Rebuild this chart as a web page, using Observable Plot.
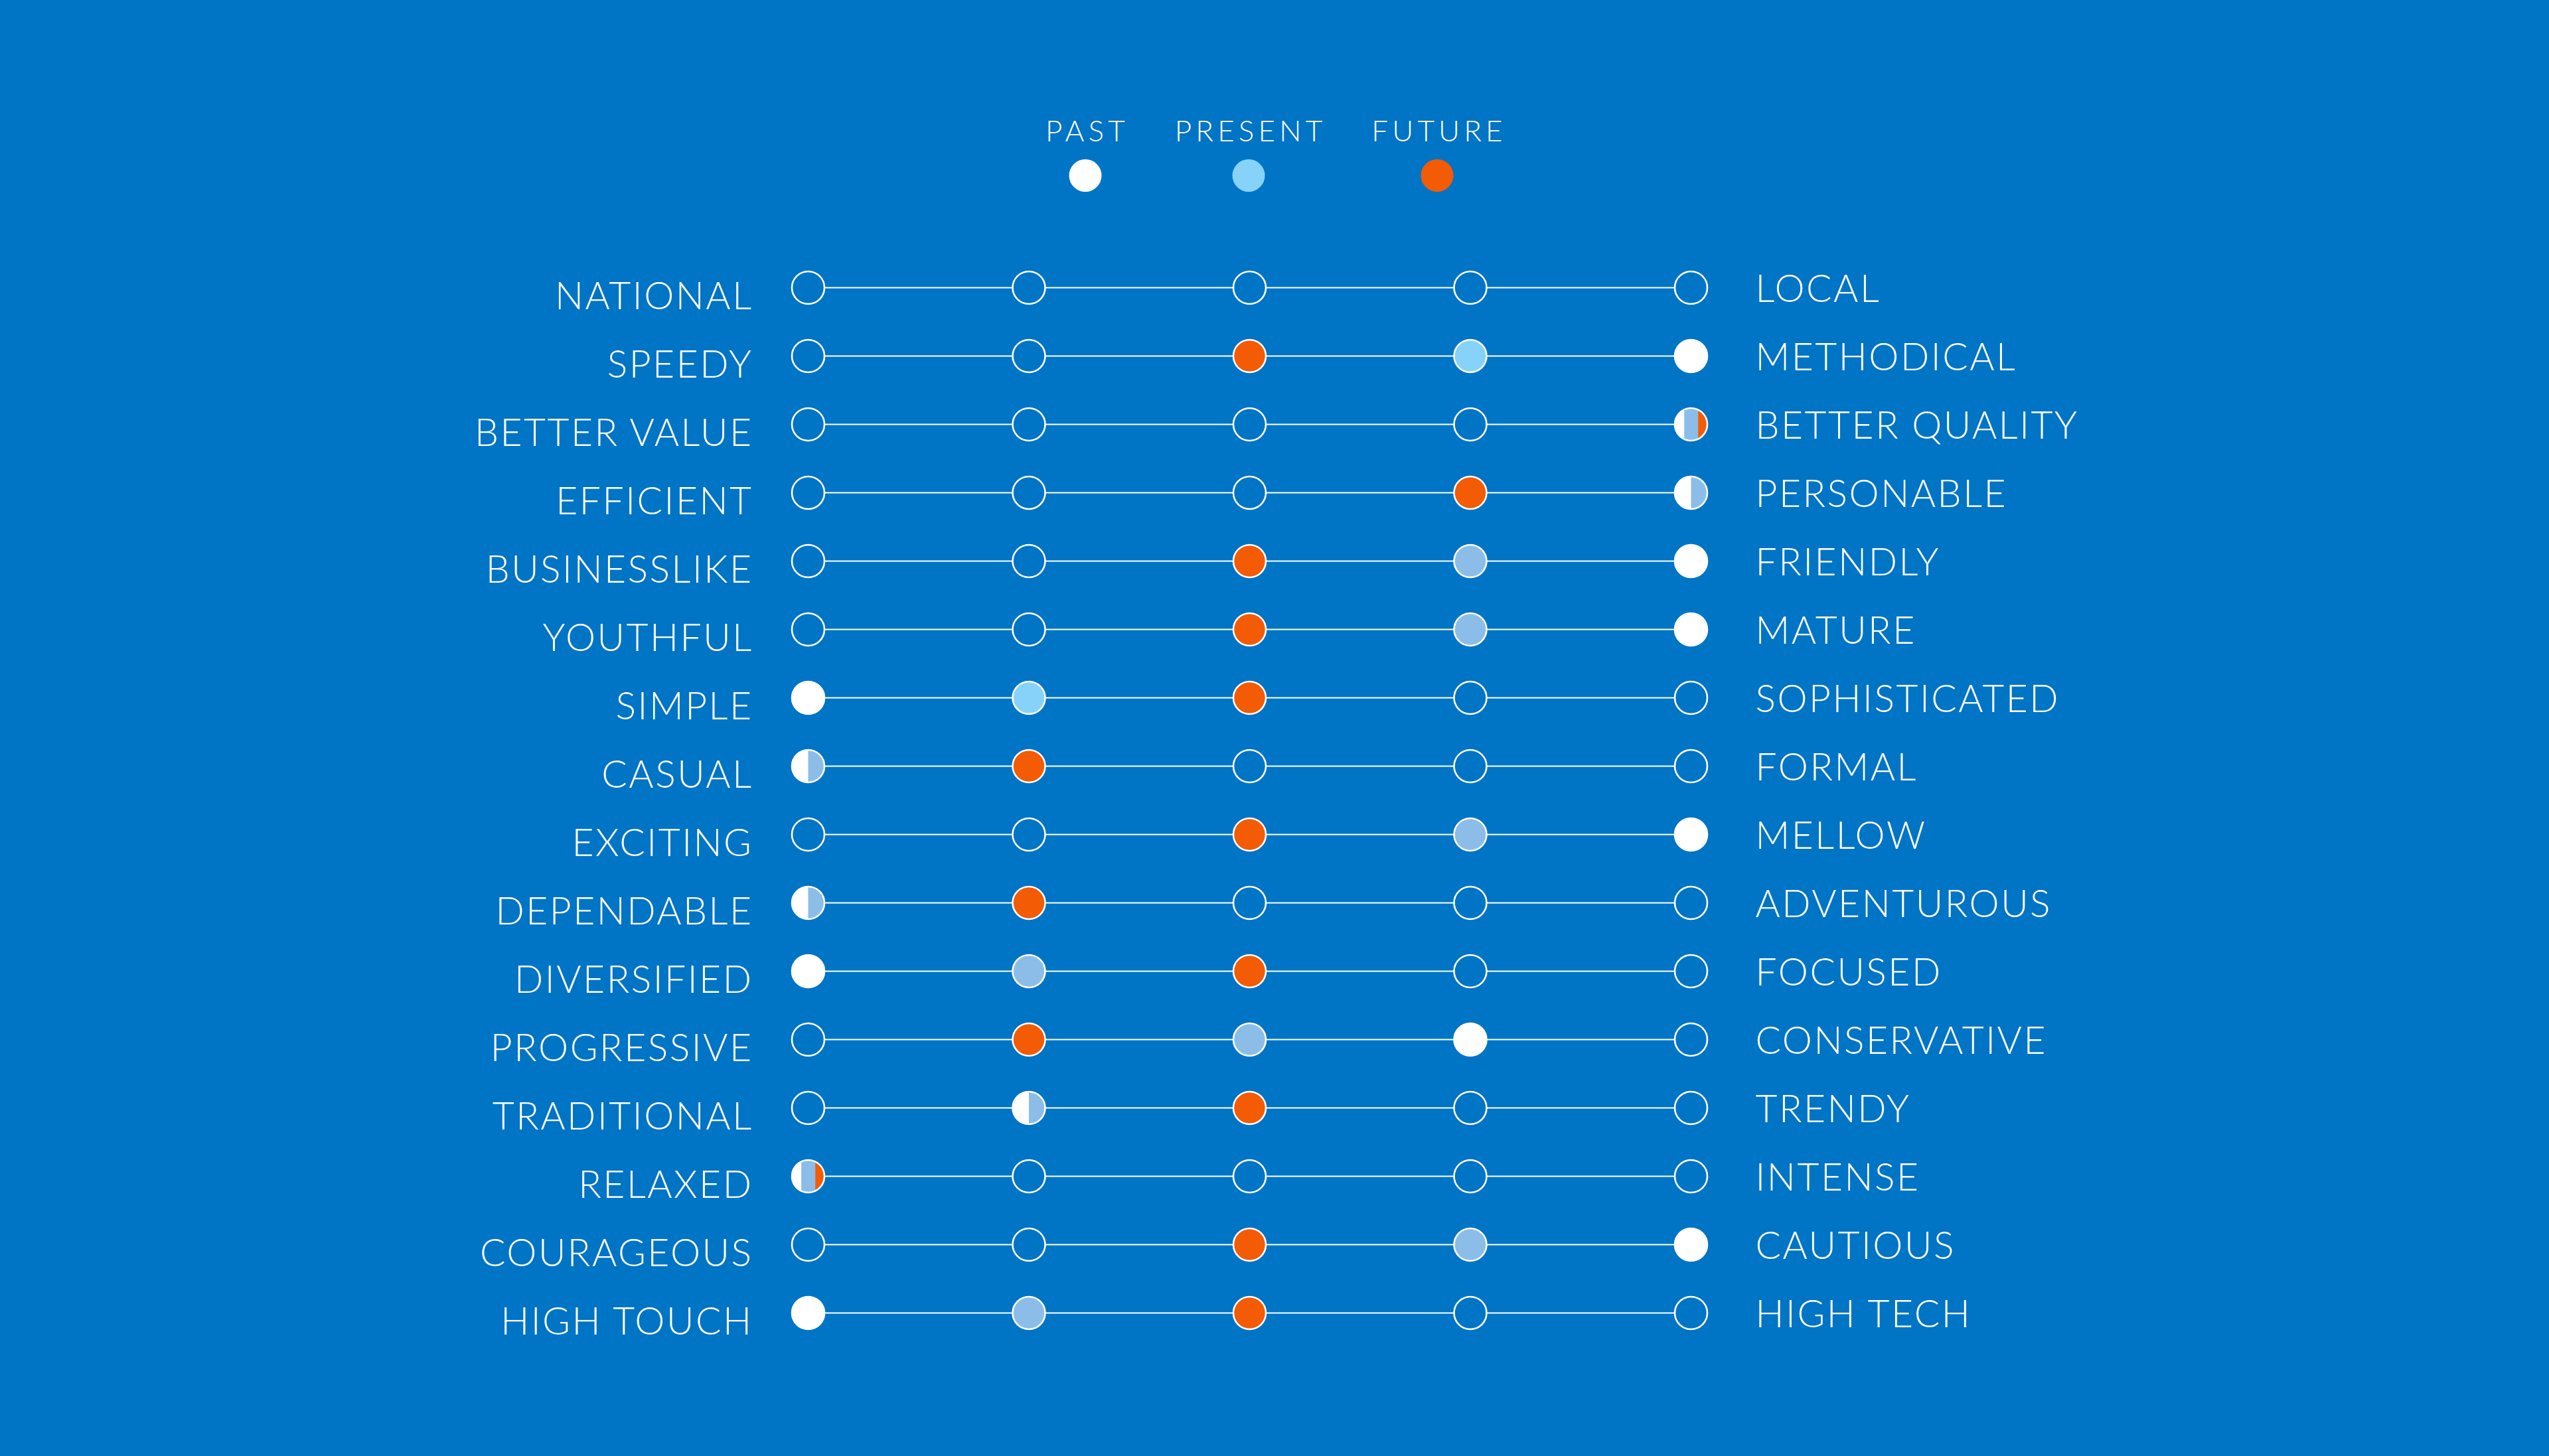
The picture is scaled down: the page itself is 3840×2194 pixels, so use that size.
<!DOCTYPE html>
<html>
<head>
<meta charset="utf-8">
<script src="https://cdn.jsdelivr.net/npm/d3@7"></script>
<script src="https://cdn.jsdelivr.net/npm/@observablehq/plot@0.6"></script>
<style>
  html, body { margin: 0; padding: 0; background: #0074C5; }
  body { width: 3840px; height: 2194px; overflow: hidden; font-family: "Lato", "Open Sans", sans-serif; font-weight: 300; color: #fff; }
  #legend { position: relative; width: 3840px; height: 330px; }
  .lg-label { position: absolute; top: 172px; transform: translateX(-50%); font-size: 44px; line-height: 48px; letter-spacing: 0.14em; white-space: nowrap; }
  .lg-dot { position: absolute; top: 240px; width: 49px; height: 49px; border-radius: 50%; transform: translateX(-50%); }
</style>
</head>
<body>
<div id="legend"></div>
<div id="chart"></div>
<script>
// ---- data ----
const leftLabels = ["NATIONAL","SPEEDY","BETTER VALUE","EFFICIENT","BUSINESSLIKE","YOUTHFUL","SIMPLE","CASUAL","EXCITING","DEPENDABLE","DIVERSIFIED","PROGRESSIVE","TRADITIONAL","RELAXED","COURAGEOUS","HIGH TOUCH"];
const rightLabels = ["LOCAL","METHODICAL","BETTER QUALITY","PERSONABLE","FRIENDLY","MATURE","SOPHISTICATED","FORMAL","MELLOW","ADVENTUROUS","FOCUSED","CONSERVATIVE","TRENDY","INTENSE","CAUTIOUS","HIGH TECH"];
const scalePoints = [1, 2, 3, 4, 5];
const series = ["PAST", "PRESENT", "FUTURE"];
// position (1-5) on each scale; null = not rated
const past    = [null, 5, 5, 5, 5, 5, 1, 1, 5, 1, 1, 4, 2, 1, 5, 1];
const present = [null, 4, 5, 5, 4, 4, 2, 1, 4, 1, 2, 3, 2, 1, 4, 2];
const future  = [null, 3, 5, 4, 3, 3, 3, 2, 3, 2, 3, 2, 3, 1, 3, 3];
const brightPresentRows = ["SPEEDY", "SIMPLE"];

// ---- colours ----
const BG = "#0074C5";
const colorDomain = ["PAST", "PRESENT", "PRESENT_LIGHT", "FUTURE"];
const colorRange = ["#FFFFFF", "#8BBDE8", "#87D2F8", "#F35B04"];
const legendColors = {PAST: "#FFFFFF", PRESENT: "#87D2F8", FUTURE: "#F35B04"};

// ---- legend (HTML, above the svg) ----
const legendX = {PAST: 1635, PRESENT: 1881, FUTURE: 2165};
const legend = document.getElementById("legend");
for (const s of series) {
  const l = document.createElement("div");
  l.className = "lg-label"; l.textContent = s; l.style.left = (legendX[s] + 3) + "px";
  legend.appendChild(l);
  const d = document.createElement("div");
  d.className = "lg-dot"; d.style.left = legendX[s] + "px"; d.style.background = legendColors[s];
  legend.appendChild(d);
}

// ---- custom symbol: part of a circle to the right of x = t*r ----
function rightOf(t) {
  return {
    draw(context, size) {
      const r = Math.sqrt(size / Math.PI);
      if (t <= -1) { context.moveTo(r, 0); context.arc(0, 0, r, 0, 2 * Math.PI); context.closePath(); return; }
      const a = Math.acos(t);
      context.moveTo(t * r, -r * Math.sin(a));
      context.arc(0, 0, r, -a, a);
      context.closePath();
    }
  };
}
const cuts = {1: [-1], 2: [-1, 0], 3: [-1, -0.42, 0.44]};

// ---- build tables ----
const grid = [];
leftLabels.forEach(row => scalePoints.forEach(p => grid.push({row, p})));
const pieces = [];
leftLabels.forEach((row, i) => {
  const vals = {PAST: past[i], PRESENT: present[i], FUTURE: future[i]};
  for (const p of scalePoints) {
    const here = series.filter(s => vals[s] === p);
    here.forEach((s, k) => {
      let key = s;
      if (s === "PRESENT" && brightPresentRows.includes(row)) key = "PRESENT_LIGHT";
      pieces.push({row, p, key, cut: cuts[here.length][k]});
    });
  }
});
const rowsTable = leftLabels.map((l, i) => ({left: l, right: rightLabels[i]}));

const R = 24.5;
const cutValues = [-1, 0, -0.42, 0.44];
const pieceMarks = cutValues.map(c =>
  Plot.dot(pieces.filter(d => d.cut === c), {x: "p", y: "row", r: R, symbol: rightOf(c), fill: "key", stroke: "none"})
);

const svgH = 1864;
const chart = Plot.plot({
  width: 3840,
  height: svgH,
  marginLeft: 1217,
  marginRight: 3840 - 2547,
  marginTop: 101,
  marginBottom: svgH - 1649,
  style: {background: BG, fontFamily: "Lato, 'Open Sans', sans-serif", letterSpacing: "2.5px", overflow: "visible"},
  x: {domain: [1, 5], axis: null},
  y: {type: "point", domain: leftLabels, padding: 0, axis: null},
  color: {domain: colorDomain, range: colorRange},
  marks: [
    Plot.ruleY(rowsTable, {y: "left", x1: () => 1, x2: () => 5, stroke: "#FFFFFF", strokeWidth: 1.8}),
    Plot.dot(grid, {x: "p", y: "row", r: R, fill: BG, stroke: "none"}),
    ...pieceMarks,
    Plot.dot(grid, {x: "p", y: "row", r: R, fill: "none", stroke: "#FFFFFF", strokeWidth: 2.6}),
    Plot.text(rowsTable, {x: () => 1, y: "left", text: "left", textAnchor: "end", dx: -83, dy: 14, fontSize: 57, fontWeight: 300, fill: "#FFFFFF"}),
    Plot.text(rowsTable, {x: () => 5, y: "left", text: "right", textAnchor: "start", dx: 97, dy: 3, fontSize: 57, fontWeight: 300, fill: "#FFFFFF"})
  ]
});
document.getElementById("chart").appendChild(chart);
</script>
</body>
</html>
